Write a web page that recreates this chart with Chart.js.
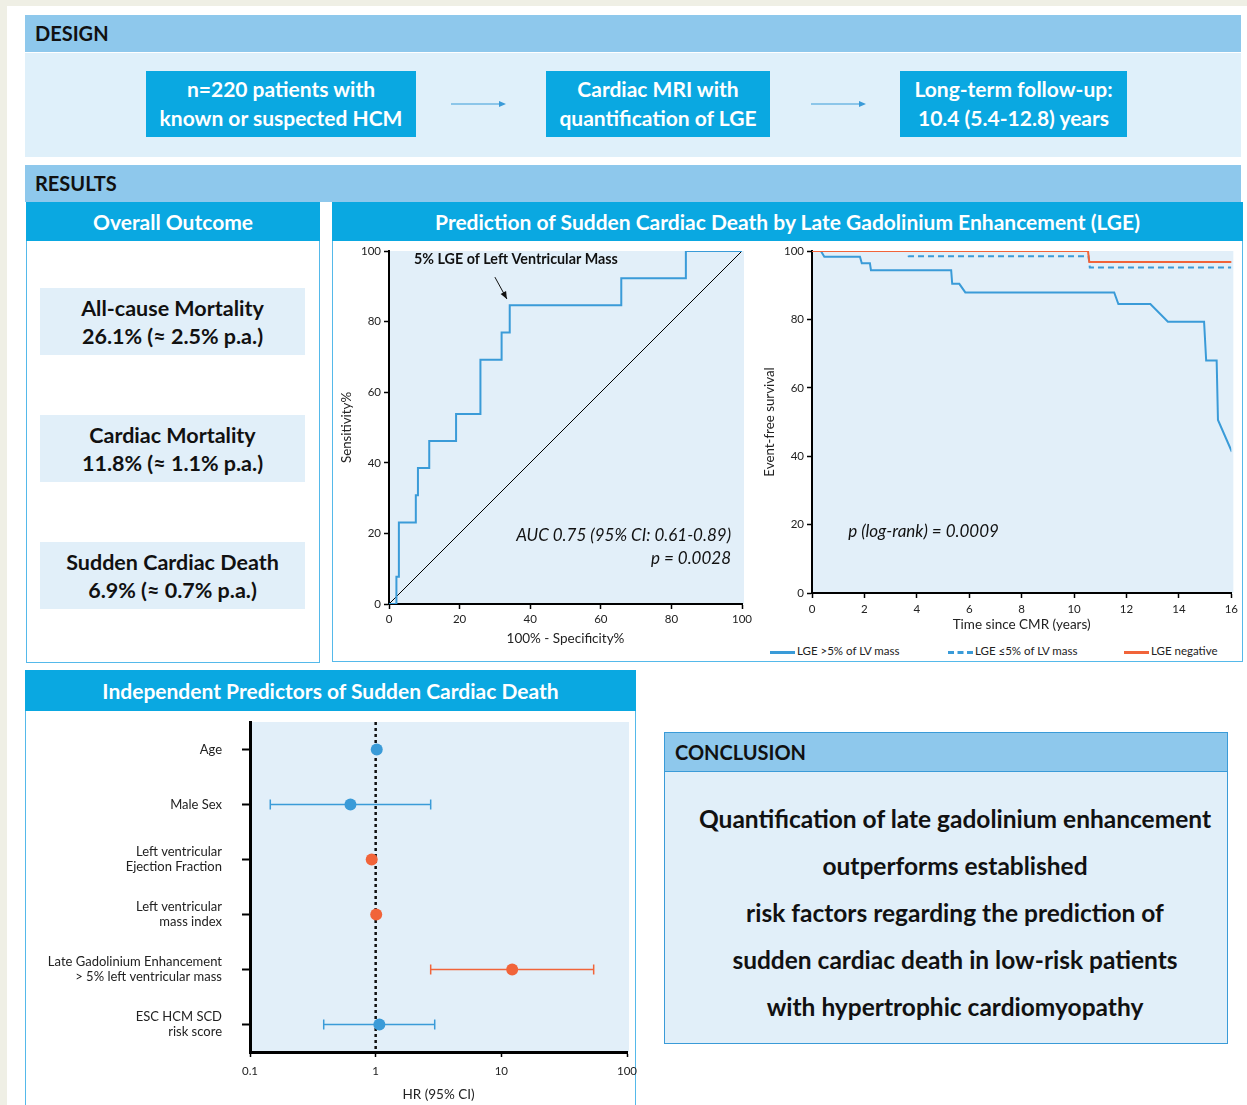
<!DOCTYPE html>
<html>
<head>
<meta charset="utf-8">
<script src="https://cdn.jsdelivr.net/npm/chart.js@4.4.1/dist/chart.umd.min.js"></script>
<style>
  body { margin: 0; width: 1247px; height: 1105px; background: #efefe5; position: relative; overflow: hidden; font-family: Lato, sans-serif; color: #111; }
  .abs { position: absolute; box-sizing: border-box; }
  .bar { background: #8ec8ec; font-weight: bold; font-size: 20px; padding-left: 10px; }
  .cyan { background: #0aa8e1; color: #fff; font-weight: bold; font-size: 21px; text-align: center; }
  .panel { border: 1px solid #55b9ea; background: #fff; }
  .stat { background: #e1eff9; font-weight: bold; font-size: 21.5px; line-height: 28px; text-align: center; padding-top: 6px; }
  .legend { font-size: 11.5px; color: #222; top: 644px; height: 14px; line-height: 14px; }
  .legend span { display: inline-block; vertical-align: middle; width: 25px; margin-right: 2px; }
  canvas { position: absolute; }
</style>
</head>
<body>
<div class="abs" style="left:7px;top:6px;right:0;bottom:0;background:#fff"></div>

<!-- DESIGN -->
<div class="abs bar" style="left:25px;top:15px;width:1216px;height:37px;line-height:37px">DESIGN</div>
<div class="abs" style="left:25px;top:53px;width:1216px;height:104px;background:#dff0fa"></div>
<div class="abs cyan" style="left:146px;top:71px;width:270px;height:66px;line-height:29px;padding-top:3px">n=220 patients with<br>known or suspected HCM</div>
<div class="abs cyan" style="left:546px;top:71px;width:224px;height:66px;line-height:29px;padding-top:3px">Cardiac MRI with<br>quantification of LGE</div>
<div class="abs cyan" style="left:900px;top:71px;width:227px;height:66px;line-height:29px;padding-top:3px">Long-term follow-up:<br>10.4 (5.4-12.8) years</div>
<svg class="abs" style="left:0;top:0" width="1247" height="160">
  <g stroke="#3a9bd8" stroke-width="1.2" fill="#3a9bd8">
    <line x1="451" y1="104" x2="500" y2="104"/><polygon points="499,101 506,104 499,107" stroke="none"/>
    <line x1="811" y1="104" x2="860" y2="104"/><polygon points="859,101 866,104 859,107" stroke="none"/>
  </g>
</svg>

<!-- RESULTS -->
<div class="abs bar" style="left:25px;top:165px;width:1216px;height:37px;line-height:37px">RESULTS</div>

<div class="abs panel" style="left:26px;top:202px;width:294px;height:461px"></div>
<div class="abs cyan" style="left:26px;top:202px;width:294px;height:39px;line-height:40px">Overall Outcome</div>
<div class="abs stat" style="left:40px;top:288px;width:265px;height:67px">All-cause Mortality<br>26.1% (≈ 2.5% p.a.)</div>
<div class="abs stat" style="left:40px;top:415px;width:265px;height:67px">Cardiac Mortality<br>11.8% (≈ 1.1% p.a.)</div>
<div class="abs stat" style="left:40px;top:542px;width:265px;height:67px">Sudden Cardiac Death<br>6.9% (≈ 0.7% p.a.)</div>

<div class="abs panel" style="left:332px;top:202px;width:911px;height:460px"></div>
<div class="abs cyan" style="left:332px;top:202px;width:911px;height:39px;line-height:40px">Prediction of Sudden Cardiac Death by Late Gadolinium Enhancement (LGE)</div>
<canvas id="roc" width="423" height="418" style="left:335px;top:242px"></canvas>
<canvas id="km" width="480" height="398" style="left:762px;top:242px"></canvas>
<div class="abs legend" style="left:770px"><span style="border-top:3px solid #3a9bd8"></span>LGE &gt;5% of LV mass</div>
<div class="abs legend" style="left:948px"><span style="border-top:3px dashed #3a9bd8"></span>LGE ≤5% of LV mass</div>
<div class="abs legend" style="left:1124px"><span style="border-top:3px solid #f1643a"></span>LGE negative</div>

<!-- PREDICTORS -->
<div class="abs panel" style="left:25px;top:670px;width:611px;height:450px"></div>
<div class="abs cyan" style="left:25px;top:670px;width:611px;height:41px;line-height:41px">Independent Predictors of Sudden Cardiac Death</div>
<canvas id="forest" width="612" height="393" style="left:27px;top:712px"></canvas>

<!-- CONCLUSION -->
<div class="abs" style="left:664px;top:732px;width:564px;height:312px;border:1px solid #3a9bd8;background:#e1eff9"></div>
<div class="abs bar" style="left:665px;top:733px;width:562px;height:39px;line-height:39px;border-bottom:1px solid #3a9bd8">CONCLUSION</div>
<div class="abs" style="left:660px;top:795px;width:590px;text-align:center;font-weight:bold;font-size:24.5px;line-height:47px">
  Quantification of late gadolinium enhancement<br>outperforms established<br>risk factors regarding the prediction of<br>sudden cardiac death in low-risk patients<br>with hypertrophic cardiomyopathy
</div>

<script>
// ROC curve: 100% - specificity vs sensitivity (step points)
const rocX = [0, 2.1, 2.8, 7.6, 8.2, 11.4, 19.0, 25.9, 31.9, 34.2, 65.8, 84.1, 100];
const rocY = [0, 7.7, 23.1, 30.8, 38.5, 46.2, 53.8, 69.2, 76.9, 84.6, 92.3, 100, 100];
const diagX = [0, 100];
const diagY = [0, 100];
const rocTicks = [0, 20, 40, 60, 80, 100];

// Kaplan-Meier curves (years, event-free survival %)
const kmHighX = [0, 0.34, 0.47, 1.83, 1.9, 2.21, 2.25, 5.31, 5.35, 5.62, 5.85, 11.53, 11.69, 12.91, 13.58, 14.96, 15.04, 15.44, 15.49, 16.02];
const kmHighY = [100, 100, 98.3, 98.3, 96.4, 96.4, 94.4, 94.4, 90.4, 90.4, 87.9, 87.9, 84.5, 84.5, 79.3, 79.3, 68.0, 68.0, 50.6, 41.3];
const kmLowX = [0, 3.64, 3.69, 10.55, 10.6, 16];
const kmLowY = [100, 100, 98.5, 98.5, 95.2, 95.2];
const kmNegX = [0, 10.53, 10.58, 16.05];
const kmNegY = [100, 100, 96.8, 96.8];
const kmYearTicks = [0, 2, 4, 6, 8, 10, 12, 14, 16];

// Forest plot: hazard ratios with 95% CI
const predictors = [
  'Age',
  'Male Sex',
  ['Left ventricular', 'Ejection Fraction'],
  ['Left ventricular', 'mass index'],
  ['Late Gadolinium Enhancement', '> 5% left ventricular mass'],
  ['ESC HCM SCD', 'risk score']
];
const hrValue = [1.02, 0.63, 0.93, 1.01, 12.2, 1.07];
const hrLow = [null, 0.145, null, null, 2.74, 0.386];
const hrHigh = [null, 2.74, null, null, 54.3, 2.95];
const hrGroup = ['clinical', 'clinical', 'cmr', 'cmr', 'cmr', 'clinical'];
const hrTicks = [0.1, 1, 10, 100];

const BLUE = '#3a9bd8';
const ORANGE = '#f1643a';

Chart.defaults.font.family = 'Lato, sans-serif';
Chart.defaults.color = '#222';

const pts = (xs, ys) => xs.map((x, i) => ({ x: x, y: ys[i] }));

const plotBg = {
  id: 'plotBg',
  beforeDraw(chart) {
    const { ctx, chartArea: a } = chart;
    ctx.save();
    ctx.fillStyle = '#e2eff9';
    ctx.fillRect(a.left, a.top, a.right - a.left + 2, a.bottom - a.top);
    ctx.restore();
  }
};

function noPad(s) {
  s.paddingTop = 0; s.paddingBottom = 0;
  s.paddingLeft = 0; s.paddingRight = 0;
}

function axis(opts) {
  return Object.assign({
    type: 'linear',
    grid: { display: true, drawOnChartArea: false, tickLength: 5, tickColor: '#000', tickWidth: 1.5 },
    border: { color: '#000', width: 2 }
  }, opts);
}

// ROC
const rocNotes = {
  id: 'rocNotes',
  afterDatasetsDraw(chart) {
    const { ctx, scales: { x, y } } = chart;
    ctx.save();
    ctx.fillStyle = '#111';
    ctx.font = 'bold 14.3px Lato';
    ctx.textBaseline = 'middle';
    ctx.fillText('5% LGE of Left Ventricular Mass', x.getPixelForValue(7.1), y.getPixelForValue(97.7));
    // arrow
    const x1 = x.getPixelForValue(30.0), y1 = y.getPixelForValue(92.6);
    const x2 = x.getPixelForValue(33.4), y2 = y.getPixelForValue(86.4);
    ctx.strokeStyle = '#111';
    ctx.lineWidth = 1;
    ctx.beginPath(); ctx.moveTo(x1, y1); ctx.lineTo(x2, y2); ctx.stroke();
    const ang = Math.atan2(y2 - y1, x2 - x1);
    ctx.beginPath();
    ctx.moveTo(x2, y2);
    ctx.lineTo(x2 - 8 * Math.cos(ang - 0.4), y2 - 8 * Math.sin(ang - 0.4));
    ctx.lineTo(x2 - 8 * Math.cos(ang + 0.4), y2 - 8 * Math.sin(ang + 0.4));
    ctx.closePath(); ctx.fill();
    ctx.font = 'italic 17px Lato';
    ctx.textAlign = 'right';
    ctx.fillText('AUC 0.75 (95% CI: 0.61-0.89)', x.getPixelForValue(96.9), y.getPixelForValue(19.3));
    ctx.fillText('p = 0.0028', x.getPixelForValue(96.9), y.getPixelForValue(13.0));
    ctx.restore();
  }
};

new Chart(document.getElementById('roc'), {
  type: 'line',
  data: {
    datasets: [
      { data: pts(rocX, rocY), stepped: 'before', borderColor: BLUE, borderWidth: 2, pointRadius: 0 },
      { data: pts(diagX, diagY), borderColor: '#000', borderWidth: 1, pointRadius: 0 }
    ]
  },
  options: {
    responsive: false,
    animation: false,
    layout: { padding: { top: 9, right: 16, left: 0, bottom: 0 } },
    plugins: { legend: { display: false }, tooltip: { enabled: false } },
    scales: {
      x: axis({
        min: 0, max: 100,
        afterBuildTicks: s => { s.ticks = rocTicks.map(v => ({ value: v })); },
        ticks: { font: { size: 11.5 }, padding: 3 },
        title: { display: true, text: '100% - Specificity%', font: { size: 13.5 }, padding: { top: 0, bottom: 13 } },
        afterFit: s => { s.height = 56; }
      }),
      y: axis({
        min: 0, max: 100,
        afterBuildTicks: s => { s.ticks = rocTicks.map(v => ({ value: v })); },
        ticks: { font: { size: 11.5 }, padding: 3 },
        title: { display: true, text: 'Sensitivity%', font: { size: 13.3 }, padding: { top: 4, bottom: 0 } },
        afterFit: s => { s.width = 54; noPad(s); }
      })
    }
  },
  plugins: [plotBg, rocNotes]
});

// Kaplan-Meier
const kmNotes = {
  id: 'kmNotes',
  afterDatasetsDraw(chart) {
    const { ctx, scales: { x, y } } = chart;
    ctx.save();
    ctx.fillStyle = '#111';
    ctx.font = 'italic 17px Lato';
    ctx.textBaseline = 'middle';
    ctx.fillText('p (log-rank) = 0.0009', x.getPixelForValue(1.38), y.getPixelForValue(17.9));
    ctx.restore();
  }
};

new Chart(document.getElementById('km'), {
  type: 'line',
  data: {
    datasets: [
      { label: 'LGE >5% of LV mass', data: pts(kmHighX, kmHighY), borderColor: BLUE, borderWidth: 2, pointRadius: 0, order: 2 },
      { label: 'LGE ≤5% of LV mass', data: pts(kmLowX, kmLowY), borderColor: BLUE, borderWidth: 2, borderDash: [6, 4], pointRadius: 0, order: 1 },
      { label: 'LGE negative', data: pts(kmNegX, kmNegY), borderColor: ORANGE, borderWidth: 2, pointRadius: 0, order: 0 }
    ]
  },
  options: {
    responsive: false,
    animation: false,
    layout: { padding: { top: 9, right: 8, left: 0, bottom: 0 } },
    plugins: { legend: { display: false }, tooltip: { enabled: false } },
    scales: {
      x: axis({
        min: 0, max: 16,
        afterBuildTicks: s => { s.ticks = kmYearTicks.map(v => ({ value: v })); },
        ticks: { font: { size: 11.5 }, padding: 4 },
        title: { display: true, text: 'Time since CMR (years)', font: { size: 13.5 }, padding: { top: 0, bottom: 7 } },
        afterFit: s => { s.height = 47; }
      }),
      y: axis({
        min: 0, max: 100,
        afterBuildTicks: s => { s.ticks = rocTicks.map(v => ({ value: v })); },
        ticks: { font: { size: 11.5 }, padding: 3 },
        title: { display: true, text: 'Event-free survival', font: { size: 13.3 }, padding: { top: 0, bottom: 0 } },
        afterFit: s => { s.width = 50; noPad(s); }
      })
    }
  },
  plugins: [plotBg, kmNotes]
});

// Forest plot
const groupColor = g => (g === 'cmr' ? ORANGE : BLUE);

const forestMarks = {
  id: 'forestMarks',
  beforeDatasetsDraw(chart) {
    const { ctx, chartArea: a, scales: { x, y } } = chart;
    ctx.save();
    // reference line at HR = 1
    ctx.strokeStyle = '#111';
    ctx.lineWidth = 2.5;
    ctx.setLineDash([3, 3]);
    const rx = x.getPixelForValue(1);
    ctx.beginPath(); ctx.moveTo(rx, a.top); ctx.lineTo(rx, a.bottom); ctx.stroke();
    ctx.setLineDash([]);
    // confidence intervals
    ctx.lineWidth = 1.5;
    hrValue.forEach((v, i) => {
      if (hrLow[i] == null) return;
      const py = y.getPixelForValue(i + 1);
      const lx = x.getPixelForValue(hrLow[i]);
      const hx = x.getPixelForValue(hrHigh[i]);
      ctx.strokeStyle = groupColor(hrGroup[i]);
      ctx.beginPath();
      ctx.moveTo(lx, py); ctx.lineTo(hx, py);
      ctx.moveTo(lx, py - 5); ctx.lineTo(lx, py + 5);
      ctx.moveTo(hx, py - 5); ctx.lineTo(hx, py + 5);
      ctx.stroke();
    });
    ctx.restore();
  }
};

new Chart(document.getElementById('forest'), {
  type: 'scatter',
  data: {
    datasets: [{
      data: hrValue.map((v, i) => ({ x: v, y: i + 1 })),
      backgroundColor: hrGroup.map(groupColor),
      borderWidth: 0,
      pointRadius: 6
    }]
  },
  options: {
    responsive: false,
    animation: false,
    layout: { padding: { top: 10, right: 12, left: 0, bottom: 0 } },
    plugins: { legend: { display: false }, tooltip: { enabled: false } },
    scales: {
      x: axis({
        type: 'logarithmic',
        min: 0.1, max: 100,
        afterBuildTicks: s => { s.ticks = hrTicks.map(v => ({ value: v })); },
        ticks: { font: { size: 11.5 }, padding: 7, callback: v => String(v) },
        border: { color: '#000', width: 3 },
        title: { display: true, text: 'HR (95% CI)', font: { size: 13.5 }, padding: { top: 0, bottom: 2 } },
        afterFit: s => { s.height = 53; noPad(s); }
      }),
      y: axis({
        reverse: true,
        min: 0.5, max: 6.5,
        afterBuildTicks: s => { s.ticks = predictors.map((p, i) => ({ value: i + 1 })); },
        ticks: { font: { size: 13 }, padding: 20, callback: v => predictors[v - 1] },
        grid: { display: true, drawOnChartArea: false, tickLength: 8, tickColor: '#000', tickWidth: 2 },
        border: { color: '#000', width: 3 },
        afterFit: s => { s.width = 223; noPad(s); }
      })
    }
  },
  plugins: [plotBg, forestMarks]
});
</script>
</body>
</html>
